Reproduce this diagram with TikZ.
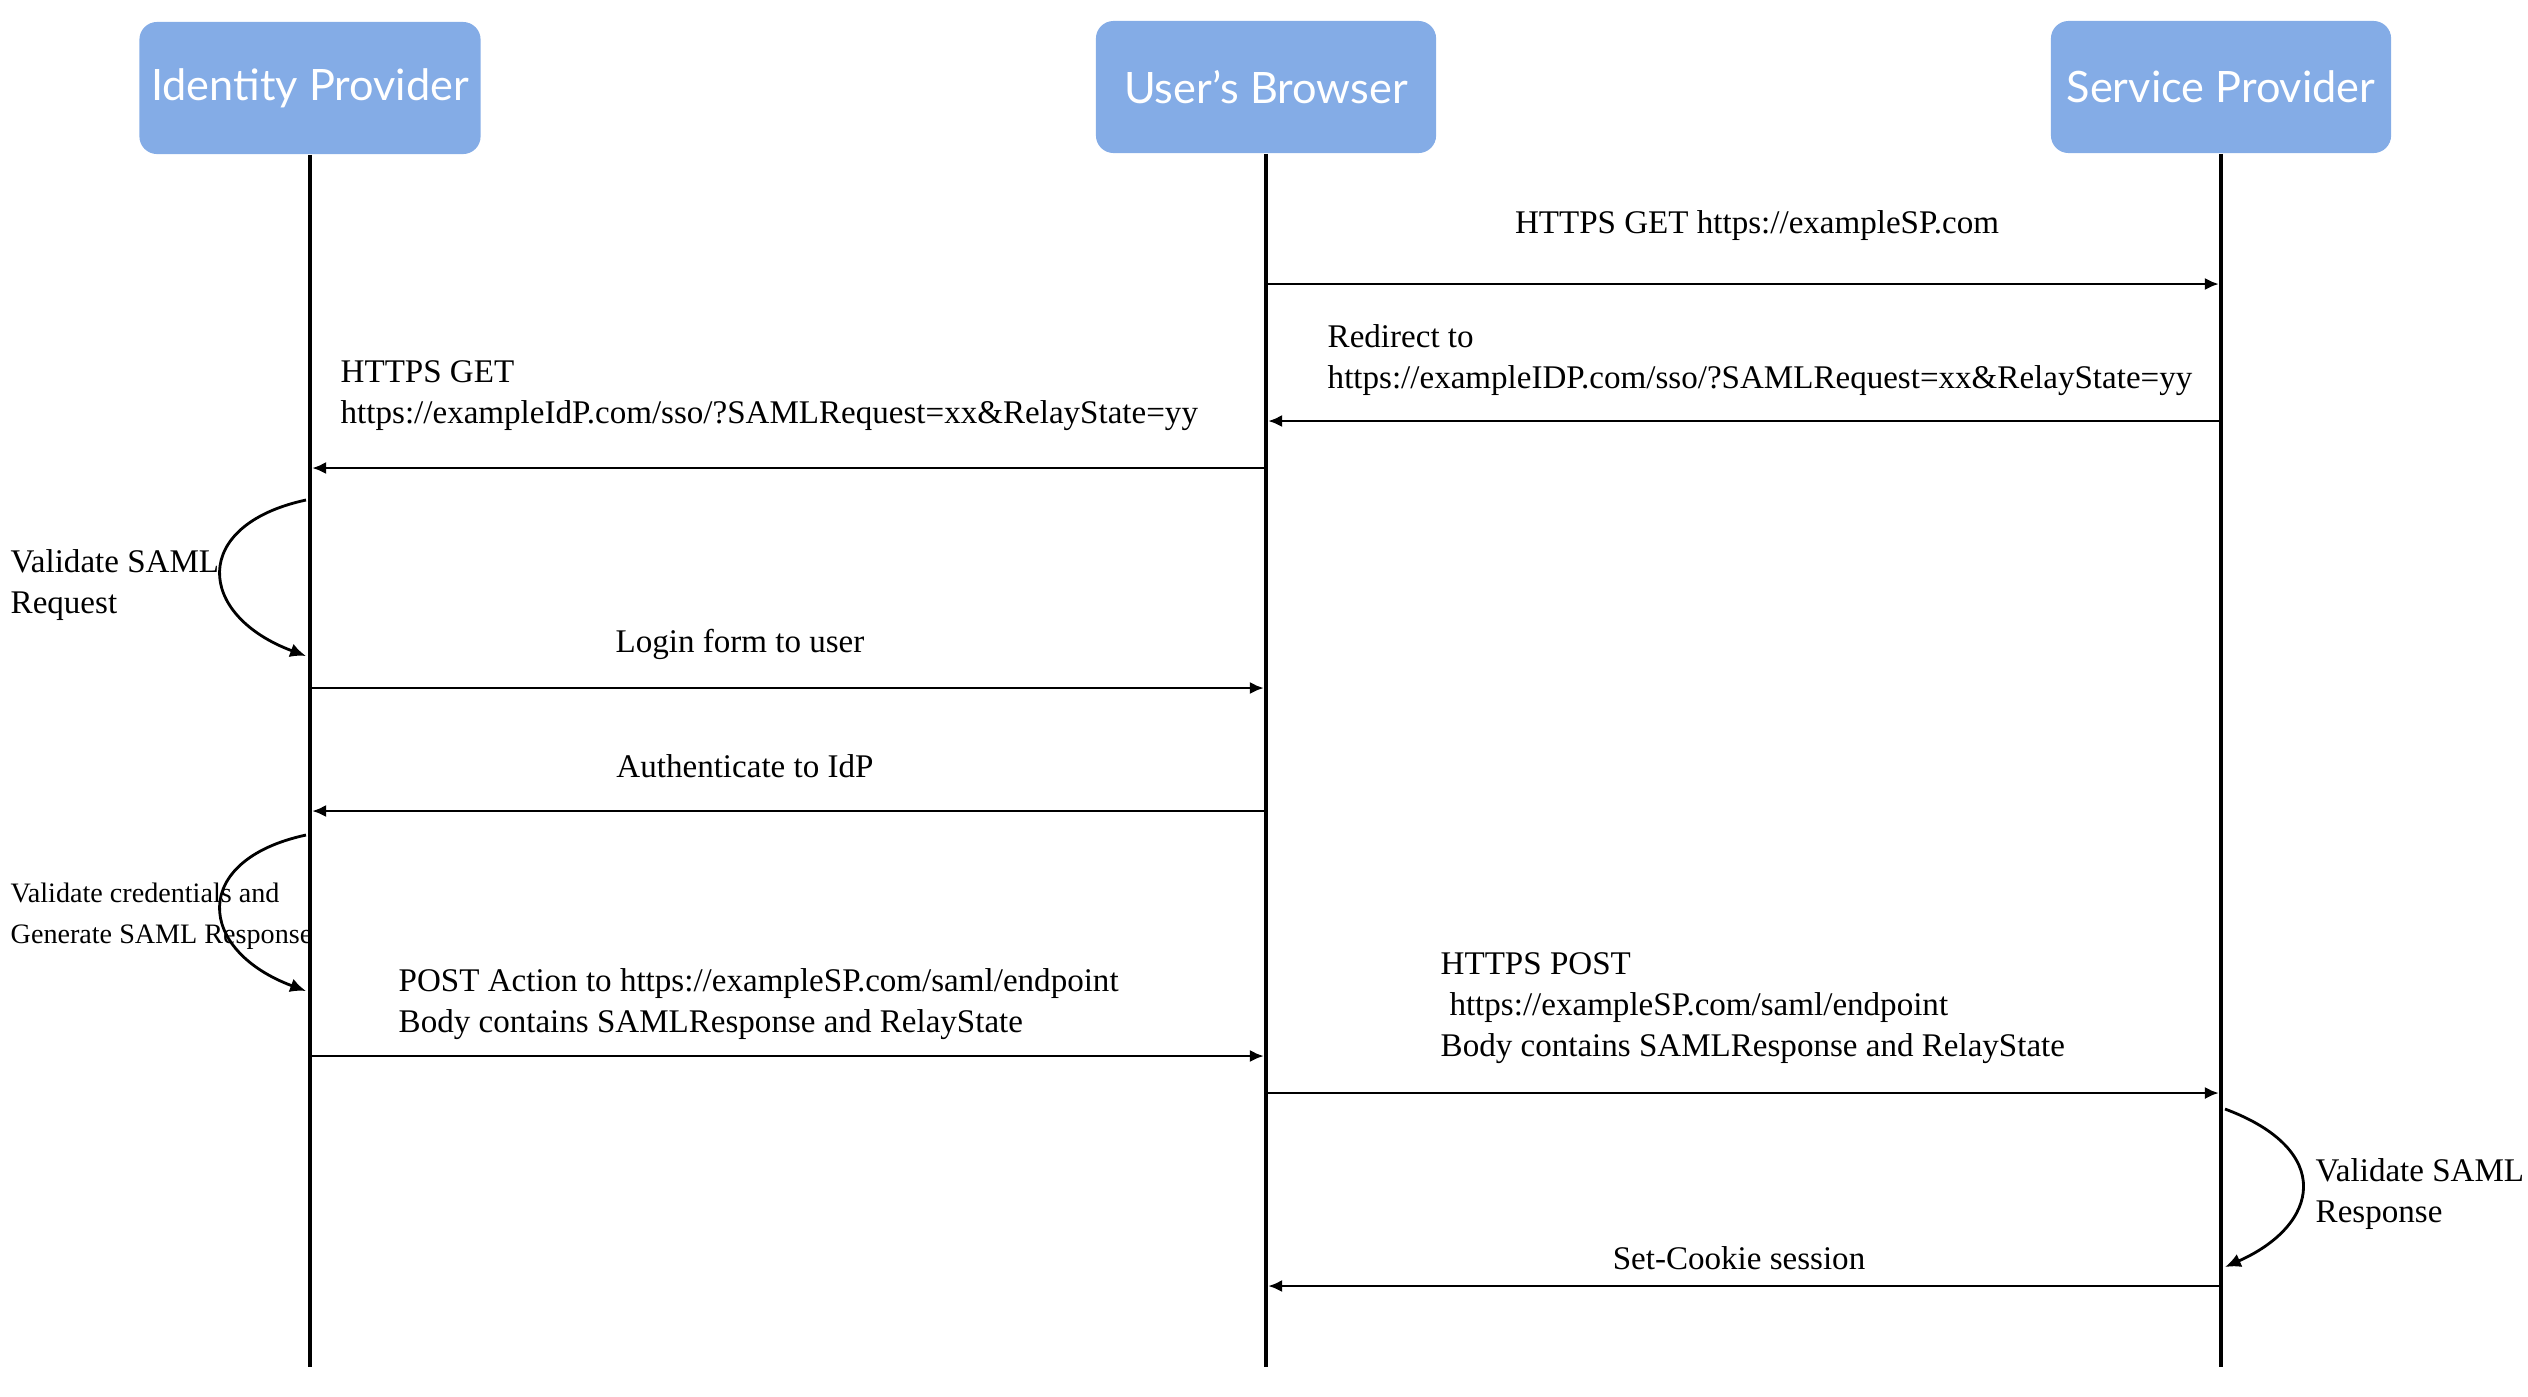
\documentclass[tikz,border=0pt]{standalone}
\usepackage{fontspec}
\setmainfont{Liberation Serif}
\newfontfamily\headfont{Lato}
\usetikzlibrary{arrows.meta}
\definecolor{headblue}{HTML}{84ACE6}

\begin{document}
\begin{tikzpicture}[x=0.01cm,y=-0.01cm,
  head/.style={fill=headblue,rounded corners=5pt,minimum width=3.4cm,minimum height=1.32cm,text=white,font=\headfont\fontsize{12.3}{15}\selectfont},
  life/.style={line width=1.1pt},
  msg/.style={line width=0.8pt,-{Latex[length=4pt,width=3.5pt]},shorten >=0.6pt,shorten <=0.6pt},
  self/.style={line width=0.8pt,-{Latex[length=4.5pt,width=4pt]}},
  lbl/.style={inner sep=0pt,align=left,font=\fontsize{9.4}{11.7}\selectfont},
  small lbl/.style={lbl,font=\fontsize{8}{11.7}\selectfont}]
  \useasboundingbox (0,0) rectangle (2528,1396);

  %heads and lifelines
  \node[head] (idp) at (310,88) {Identity Provider};
  \node[head] (br) at (1266,87) {User’s Browser};
  \node[head] (sp) at (2221,87) {Service Provider};
  \foreach \n/\x in {idp/310,br/1266,sp/2221}{
    \coordinate (\n-end) at (\x,1367);
    \draw[life] (\n) -- (\n-end);
    \foreach \m/\y in {1/284,2/421,3/468,4/688,5/811,6/1056,7/1093,8/1286}
      \coordinate (\n-\m) at (\x,\y);
  }

  %messages
  \draw[msg] (br-1) -- (sp-1);
  \node[lbl,at={(1757,226)}]{HTTPS GET https://exampleSP.com};
  \draw[msg] (sp-2) -- (br-2);
  \node[lbl,anchor=west,at={(1327,360)}]{Redirect to\\https://exampleIDP.com/sso/?SAMLRequest=xx\&RelayState=yy};
  \draw[msg] (br-3) -- (idp-3);
  \node[lbl,anchor=west,at={(340,396)}]{HTTPS GET\\https://exampleIdP.com/sso/?SAMLRequest=xx\&RelayState=yy};
  \draw[msg] (idp-4) -- (br-4);
  \node[lbl,at={(740,644)}]{Login form to user};
  \draw[msg] (br-5) -- (idp-5);
  \node[lbl,at={(745,766)}]{Authenticate to IdP};
  \draw[msg] (idp-6) -- (br-6);
  \node[lbl,anchor=west,at={(398,1004)}]{POST Action to https://exampleSP.com/saml/endpoint\\Body contains SAMLResponse and RelayState};
  \draw[msg] (br-7) -- (sp-7);
  \node[lbl,anchor=west,at={(1440,1008)}]{HTTPS POST\\\hspace{2.5pt}https://exampleSP.com/saml/endpoint\\Body contains SAMLResponse and RelayState};
  \draw[msg] (sp-8) -- (br-8);
  \node[lbl,at={(1739,1258)}]{Set-Cookie session};

  %self checks
  \coordinate (idp-r1) at (306,500);
  \coordinate (idp-r2) at (306,656);
  \coordinate (idp-r3) at (306,835);
  \coordinate (idp-r4) at (306,991);
  \coordinate (sp-r1) at (2225,1109);
  \coordinate (sp-r2) at (2225,1267);
  \draw[self] (idp-r1) .. controls +(-116,25) and +(-110,-41) .. (idp-r2);
  \node[lbl,anchor=west,at={(10,585)}]{Validate SAML\\Request};
  \draw[self] (idp-r3) .. controls +(-116,25) and +(-110,-41) .. (idp-r4);
  \node[small lbl,anchor=west,at={(10,916)}]{Validate credentials and\\Generate SAML Response};
  \draw[self] (sp-r1) .. controls +(110,41) and +(95,-42) .. (sp-r2);
  \node[lbl,anchor=west,at={(2315,1194)}]{Validate SAML\\Response};
\end{tikzpicture}
\end{document}
